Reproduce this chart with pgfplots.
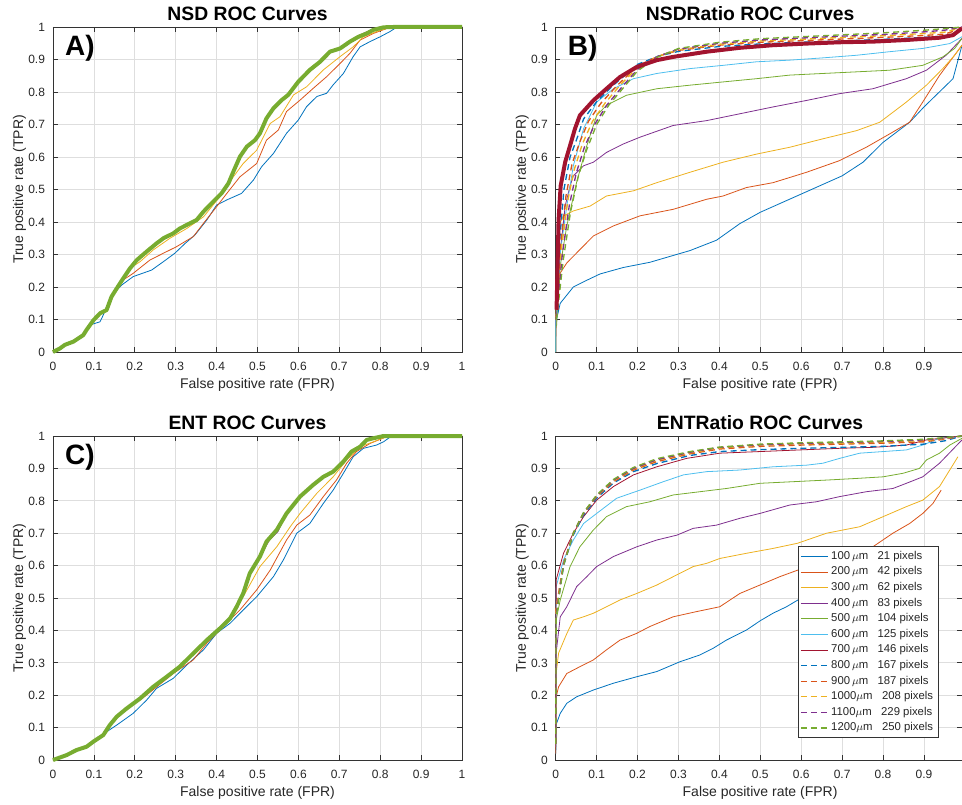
\documentclass[border=0pt]{standalone}
\usepackage{fontspec}
\setmainfont{Liberation Sans}
\usepackage{pgfplots}
\pgfplotsset{compat=1.18}
\definecolor{c1}{rgb}{0,0.447,0.741}
\definecolor{c2}{rgb}{0.850,0.325,0.098}
\definecolor{c3}{rgb}{0.929,0.694,0.125}
\definecolor{c4}{rgb}{0.494,0.184,0.556}
\definecolor{c5}{rgb}{0.466,0.674,0.188}
\definecolor{c6}{rgb}{0.301,0.745,0.933}
\definecolor{c7}{rgb}{0.635,0.078,0.184}
\tikzset{
  dsh/.style={line width=1pt, dash pattern=on 4.5pt off 3pt},
  panellabel/.style={anchor=north west, inner sep=0pt, font=\bfseries\fontsize{21}{21}\selectfont},
}
\pgfplotsset{
  rocbase/.style={
    scale only axis, xmin=0, ymin=0, ymax=1,
    xtick={0,0.1,0.2,0.3,0.4,0.5,0.6,0.7,0.8,0.9,1},
    ytick={0,0.1,0.2,0.3,0.4,0.5,0.6,0.7,0.8,0.9,1},
    grid=major,
    major grid style={line width=0.5pt, draw=black!13},
    axis line style={line width=0.6pt, draw=black!80},
    tick style={line width=0.6pt, draw=black!80},
    major tick length=3.5pt,
    tick align=inside,
    /pgf/number format/assume math mode=true,
    ticklabel style={font=\fontsize{9}{10}\selectfont, text=black!85},
    xticklabel style={anchor=base, yshift=-13.9pt},
    yticklabel style={anchor=base east, xshift=-2.5pt, yshift=-3.2pt},
    xlabel={False positive rate (FPR)},
    ylabel={True positive rate (TPR)},
    label style={font=\fontsize{10.5}{12}\selectfont, text=black!85},
    clip=false,
    every axis title shift=0pt,
    every axis plot/.append style={line width=0.6pt, line join=round},
  },
  ttl/.style n args={3}{title style={at={(axis description cs:#1,1)}, anchor=base, inner sep=0pt,
      xshift=#2, yshift=#3, font=\bfseries\fontsize{14.5}{16}\selectfont}},
}
\begin{document}
\begin{tikzpicture}
\useasboundingbox (0pt,0pt) rectangle (721.5pt,-603.75pt);

% ---------------- A ----------------
\begin{axis}[rocbase, at={(39.75pt,-264pt)}, anchor=south west,
  width=306.75pt, height=243.75pt, xmax=1,
  title={NSD ROC Curves}, ttl={0.5}{-7.5pt}{4.5pt},
  xlabel style={at={(axis description cs:0.5,-0.1124)}, anchor=base},
  ylabel style={at={(axis description cs:-0.0733,0.5)}, anchor=base}]
\addplot[c1] coordinates {(0,0)(0.017,0.011)(0.029,0.022)(0.05,0.032)(0.074,0.052)(0.082,0.068)(0.095,0.085)(0.115,0.093)(0.123,0.114)(0.143,0.175)(0.168,0.206)(0.196,0.232)(0.241,0.252)(0.27,0.278)(0.298,0.304)(0.323,0.334)(0.347,0.36)(0.376,0.406)(0.4,0.452)(0.425,0.468)(0.461,0.488)(0.49,0.529)(0.51,0.57)(0.539,0.611)(0.571,0.673)(0.6,0.714)(0.62,0.755)(0.645,0.786)(0.669,0.796)(0.685,0.822)(0.71,0.857)(0.734,0.909)(0.751,0.939)(0.775,0.955)(0.8,0.97)(0.824,0.986)(0.84,0.999)(0.85,1)(1,1)};
\addplot[c2] coordinates {(0,0)(0.017,0.011)(0.029,0.022)(0.05,0.032)(0.074,0.052)(0.082,0.068)(0.099,0.098)(0.115,0.119)(0.131,0.129)(0.143,0.17)(0.156,0.196)(0.172,0.222)(0.196,0.242)(0.237,0.283)(0.27,0.304)(0.302,0.324)(0.343,0.355)(0.368,0.396)(0.4,0.447)(0.425,0.488)(0.457,0.539)(0.498,0.58)(0.522,0.652)(0.551,0.683)(0.571,0.74)(0.604,0.775)(0.636,0.811)(0.669,0.847)(0.702,0.888)(0.726,0.919)(0.751,0.96)(0.783,0.98)(0.824,0.999)(0.835,1)(1,1)};
\addplot[c3] coordinates {(0,0)(0.017,0.011)(0.029,0.022)(0.05,0.032)(0.074,0.052)(0.082,0.068)(0.099,0.098)(0.115,0.119)(0.131,0.129)(0.143,0.17)(0.156,0.196)(0.172,0.227)(0.188,0.257)(0.213,0.278)(0.245,0.314)(0.286,0.35)(0.327,0.38)(0.368,0.416)(0.408,0.478)(0.441,0.539)(0.465,0.58)(0.498,0.621)(0.531,0.703)(0.555,0.724)(0.588,0.791)(0.62,0.816)(0.661,0.868)(0.702,0.909)(0.734,0.939)(0.759,0.97)(0.791,0.986)(0.824,0.999)(0.835,1)(1,1)};
\addplot[c4] coordinates {(0,0)(0.017,0.011)(0.029,0.022)(0.05,0.032)(0.074,0.052)(0.082,0.068)(0.099,0.098)(0.115,0.119)(0.131,0.129)(0.143,0.17)(0.156,0.196)(0.172,0.227)(0.188,0.257)(0.205,0.283)(0.229,0.309)(0.253,0.334)(0.27,0.35)(0.294,0.365)(0.31,0.38)(0.335,0.396)(0.351,0.406)(0.368,0.432)(0.392,0.463)(0.412,0.488)(0.429,0.519)(0.441,0.555)(0.457,0.601)(0.474,0.632)(0.494,0.652)(0.506,0.673)(0.522,0.719)(0.539,0.75)(0.559,0.775)(0.575,0.791)(0.6,0.832)(0.628,0.868)(0.653,0.893)(0.677,0.924)(0.702,0.936)(0.726,0.958)(0.747,0.974)(0.767,0.985)(0.783,0.995)(0.8,1)(1,1)};
\addplot[c5, line width=3pt] coordinates {(0,0)(0.017,0.011)(0.029,0.022)(0.05,0.032)(0.074,0.052)(0.082,0.068)(0.099,0.098)(0.115,0.119)(0.131,0.129)(0.143,0.17)(0.156,0.196)(0.172,0.227)(0.188,0.257)(0.205,0.283)(0.229,0.309)(0.253,0.334)(0.27,0.35)(0.294,0.365)(0.31,0.38)(0.335,0.396)(0.351,0.406)(0.368,0.432)(0.392,0.463)(0.412,0.488)(0.429,0.519)(0.441,0.555)(0.457,0.601)(0.474,0.632)(0.494,0.652)(0.506,0.673)(0.522,0.719)(0.539,0.75)(0.559,0.775)(0.575,0.791)(0.6,0.832)(0.628,0.868)(0.653,0.893)(0.677,0.924)(0.702,0.934)(0.726,0.955)(0.747,0.97)(0.767,0.98)(0.783,0.991)(0.808,0.999)(0.832,1)(1,1)};
\node[panellabel] at (axis description cs:0.029,0.975) {A)};
\end{axis}

% ---------------- B ----------------
\begin{axis}[rocbase, at={(416.8pt,-264pt)}, anchor=south west,
  width=304.7pt, height=243.75pt, xmax=0.993,
  title={NSDRatio ROC Curves}, ttl={0.503}{-7.5pt}{4.5pt},
  xlabel style={at={(axis description cs:0.503,-0.1124)}, anchor=base},
  ylabel style={at={(axis description cs:-0.0738,0.5)}, anchor=base}]
\addplot[c1] coordinates {(0,0)(0,0.1)(0.002,0.1)(0.011,0.15)(0.043,0.2)(0.068,0.216)(0.108,0.24)(0.165,0.26)(0.23,0.276)(0.287,0.297)(0.328,0.312)(0.393,0.344)(0.45,0.395)(0.5,0.43)(0.6,0.486)(0.7,0.542)(0.751,0.584)(0.8,0.645)(0.865,0.707)(0.9,0.754)(0.971,0.841)(0.993,0.944)};
\addplot[c2] coordinates {(0,0)(0,0.037)(0.002,0.12)(0.011,0.243)(0.027,0.274)(0.059,0.315)(0.092,0.357)(0.141,0.388)(0.206,0.419)(0.287,0.439)(0.369,0.47)(0.409,0.48)(0.466,0.506)(0.531,0.521)(0.613,0.553)(0.694,0.589)(0.759,0.63)(0.816,0.671)(0.865,0.707)(0.897,0.769)(0.938,0.851)(0.993,0.944)};
\addplot[c3] coordinates {(0,0)(0,0.08)(0.002,0.2)(0.007,0.388)(0.019,0.419)(0.043,0.434)(0.084,0.449)(0.124,0.48)(0.19,0.496)(0.247,0.521)(0.328,0.553)(0.409,0.584)(0.491,0.609)(0.572,0.63)(0.653,0.656)(0.735,0.681)(0.792,0.707)(0.857,0.769)(0.906,0.821)(0.946,0.872)(0.975,0.913)(0.993,0.944)};
\addplot[c4] coordinates {(0,0)(0,0.1)(0.002,0.12)(0.011,0.305)(0.023,0.449)(0.035,0.511)(0.043,0.542)(0.068,0.573)(0.092,0.584)(0.124,0.614)(0.165,0.64)(0.206,0.661)(0.287,0.697)(0.369,0.712)(0.45,0.733)(0.531,0.754)(0.613,0.774)(0.694,0.795)(0.775,0.81)(0.857,0.841)(0.906,0.867)(0.954,0.913)(0.993,0.965)};
\addplot[c5] coordinates {(0,0)(0,0.08)(0.002,0.08)(0.011,0.264)(0.027,0.388)(0.051,0.522)(0.076,0.635)(0.1,0.728)(0.124,0.759)(0.173,0.79)(0.247,0.81)(0.328,0.821)(0.409,0.831)(0.491,0.841)(0.572,0.852)(0.653,0.857)(0.735,0.862)(0.816,0.867)(0.897,0.882)(0.946,0.908)(0.975,0.934)(0.993,0.965)};
\addplot[c6] coordinates {(0,0)(0,0.1)(0.002,0.1)(0.011,0.305)(0.027,0.449)(0.043,0.573)(0.068,0.687)(0.1,0.769)(0.141,0.81)(0.19,0.841)(0.247,0.857)(0.328,0.872)(0.409,0.882)(0.491,0.893)(0.572,0.898)(0.653,0.905)(0.735,0.913)(0.816,0.924)(0.897,0.934)(0.963,0.949)(0.993,0.97)};
\addplot[c1, dsh] coordinates {(0,0.1)(0.003,0.15)(0.01,0.35)(0.02,0.5)(0.035,0.6)(0.05,0.65)(0.068,0.717)(0.1,0.77)(0.14,0.82)(0.2,0.885)(0.25,0.91)(0.3,0.925)(0.4,0.94)(0.5,0.948)(0.6,0.953)(0.7,0.957)(0.8,0.962)(0.9,0.968)(0.95,0.972)(0.993,0.99)};
\addplot[c2, dsh] coordinates {(0,0.1)(0.003,0.14)(0.012,0.33)(0.025,0.48)(0.04,0.58)(0.06,0.65)(0.08,0.71)(0.11,0.765)(0.15,0.82)(0.2,0.88)(0.25,0.91)(0.3,0.928)(0.4,0.944)(0.5,0.953)(0.6,0.958)(0.7,0.963)(0.8,0.968)(0.9,0.974)(0.95,0.978)(0.993,0.995)};
\addplot[c3, dsh] coordinates {(0,0.1)(0.003,0.13)(0.014,0.32)(0.03,0.47)(0.045,0.56)(0.065,0.64)(0.09,0.71)(0.12,0.765)(0.16,0.825)(0.2,0.875)(0.25,0.91)(0.3,0.93)(0.4,0.947)(0.5,0.957)(0.6,0.962)(0.7,0.968)(0.8,0.973)(0.9,0.98)(0.95,0.984)(0.993,0.998)};
\addplot[c4, dsh] coordinates {(0,0.1)(0.003,0.12)(0.016,0.3)(0.033,0.45)(0.05,0.55)(0.07,0.63)(0.095,0.7)(0.125,0.76)(0.165,0.82)(0.2,0.87)(0.25,0.91)(0.3,0.932)(0.4,0.95)(0.5,0.96)(0.6,0.966)(0.7,0.972)(0.8,0.977)(0.9,0.985)(0.95,0.99)(0.993,1)};
\addplot[c5, dsh] coordinates {(0,0.1)(0.003,0.11)(0.018,0.28)(0.036,0.43)(0.055,0.54)(0.075,0.62)(0.1,0.7)(0.13,0.76)(0.17,0.82)(0.2,0.865)(0.25,0.908)(0.3,0.934)(0.4,0.953)(0.5,0.964)(0.6,0.97)(0.7,0.976)(0.8,0.982)(0.9,0.99)(0.95,0.995)(0.993,1)};
\addplot[c7, line width=3pt] coordinates {(0.002,0.13)(0.007,0.408)(0.012,0.511)(0.023,0.584)(0.035,0.635)(0.047,0.687)(0.059,0.728)(0.092,0.774)(0.124,0.81)(0.157,0.846)(0.198,0.877)(0.247,0.898)(0.287,0.908)(0.369,0.924)(0.45,0.936)(0.531,0.944)(0.613,0.949)(0.694,0.953)(0.775,0.955)(0.857,0.96)(0.938,0.967)(0.971,0.975)(0.993,0.996)};
\node[panellabel] at (axis description cs:0.029,0.975) {B)};
\end{axis}

% ---------------- C ----------------
\begin{axis}[rocbase, at={(39.75pt,-570pt)}, anchor=south west,
  width=306.75pt, height=243pt, xmax=1,
  title={ENT ROC Curves}, ttl={0.5}{-7.5pt}{5.25pt},
  xlabel style={at={(axis description cs:0.5,-0.1128)}, anchor=base},
  ylabel style={at={(axis description cs:-0.0733,0.5)}, anchor=base}]
\addplot[c1] coordinates {(0,0)(0.033,0.015)(0.058,0.031)(0.082,0.041)(0.099,0.057)(0.131,0.087)(0.156,0.108)(0.196,0.144)(0.229,0.185)(0.253,0.221)(0.294,0.252)(0.327,0.293)(0.368,0.34)(0.4,0.391)(0.433,0.422)(0.465,0.463)(0.498,0.504)(0.539,0.566)(0.563,0.617)(0.596,0.7)(0.628,0.73)(0.661,0.792)(0.685,0.833)(0.71,0.885)(0.734,0.936)(0.759,0.962)(0.791,0.972)(0.808,0.982)(0.828,1)(1,1)};
\addplot[c2] coordinates {(0,0)(0.033,0.015)(0.058,0.031)(0.082,0.041)(0.099,0.057)(0.123,0.077)(0.139,0.108)(0.156,0.134)(0.18,0.159)(0.213,0.185)(0.25,0.222)(0.294,0.267)(0.343,0.309)(0.376,0.36)(0.408,0.401)(0.457,0.463)(0.498,0.525)(0.531,0.586)(0.571,0.679)(0.596,0.725)(0.628,0.756)(0.661,0.813)(0.693,0.864)(0.718,0.916)(0.742,0.952)(0.775,0.977)(0.816,0.998)(0.825,1)(1,1)};
\addplot[c3] coordinates {(0,0)(0.033,0.015)(0.058,0.031)(0.082,0.041)(0.099,0.057)(0.123,0.077)(0.139,0.108)(0.156,0.134)(0.18,0.159)(0.213,0.19)(0.245,0.226)(0.278,0.257)(0.31,0.288)(0.343,0.329)(0.376,0.365)(0.424,0.427)(0.465,0.504)(0.506,0.597)(0.547,0.658)(0.58,0.72)(0.604,0.761)(0.645,0.823)(0.685,0.874)(0.718,0.926)(0.751,0.967)(0.783,0.982)(0.816,0.998)(0.825,1)(1,1)};
\addplot[c4] coordinates {(0,0)(0.033,0.015)(0.058,0.031)(0.082,0.041)(0.099,0.057)(0.123,0.077)(0.139,0.108)(0.156,0.134)(0.18,0.159)(0.213,0.19)(0.245,0.226)(0.278,0.257)(0.31,0.288)(0.343,0.329)(0.376,0.37)(0.408,0.406)(0.433,0.437)(0.449,0.473)(0.465,0.514)(0.481,0.576)(0.506,0.628)(0.53,0.68)(0.55,0.705)(0.571,0.761)(0.604,0.813)(0.636,0.849)(0.661,0.874)(0.685,0.89)(0.71,0.921)(0.73,0.952)(0.751,0.967)(0.767,0.985)(0.783,0.993)(0.808,1)(1,1)};
\addplot[c5, line width=3pt] coordinates {(0,0)(0.033,0.015)(0.058,0.031)(0.082,0.041)(0.099,0.057)(0.123,0.077)(0.139,0.108)(0.156,0.134)(0.18,0.159)(0.213,0.19)(0.245,0.226)(0.278,0.257)(0.31,0.288)(0.343,0.329)(0.376,0.37)(0.408,0.406)(0.433,0.437)(0.449,0.473)(0.465,0.514)(0.481,0.576)(0.506,0.628)(0.522,0.674)(0.547,0.71)(0.571,0.761)(0.604,0.813)(0.636,0.849)(0.661,0.874)(0.685,0.89)(0.71,0.921)(0.73,0.952)(0.751,0.967)(0.767,0.988)(0.783,0.993)(0.808,1)(1,1)};
\node[panellabel] at (axis description cs:0.029,0.975) {C)};
\end{axis}

% ---------------- D ----------------
\begin{axis}[rocbase, at={(416.8pt,-570pt)}, anchor=south west,
  width=304.7pt, height=243pt, xmax=0.993,
  title={ENTRatio ROC Curves}, ttl={0.503}{0pt}{5.25pt},
  xlabel style={at={(axis description cs:0.503,-0.1128)}, anchor=base},
  ylabel style={at={(axis description cs:-0.0738,0.5)}, anchor=base},
  legend cell align=left,
  legend image code/.code={\draw[#1] (0pt,0pt) -- (20pt,0pt);},
  legend style={at={(0.596,0.66)}, anchor=north west, draw=black!80, line width=0.6pt, fill=white,
    font=\fontsize{8.5}{10}\selectfont, inner sep=1.5pt, row sep=0pt,
    nodes={inner xsep=2.2pt, inner ysep=1.1pt, text height=7pt, text depth=2.5pt, text=black!85}}]
\addplot[c1] coordinates {(0,0.02)(0.001,0.06)(0.002,0.113)(0.011,0.144)(0.027,0.175)(0.051,0.195)(0.092,0.216)(0.141,0.237)(0.198,0.257)(0.247,0.273)(0.303,0.303)(0.352,0.324)(0.385,0.345)(0.417,0.37)(0.466,0.401)(0.5,0.43)(0.531,0.453)(0.564,0.473)(0.6,0.5)(0.7,0.56)(0.8,0.62)(0.85,0.65)};
\addplot[c2] coordinates {(0,0.02)(0.001,0.195)(0.007,0.226)(0.027,0.267)(0.059,0.288)(0.092,0.309)(0.124,0.34)(0.157,0.37)(0.198,0.391)(0.23,0.412)(0.287,0.442)(0.344,0.458)(0.401,0.473)(0.45,0.514)(0.499,0.54)(0.548,0.566)(0.6,0.59)(0.7,0.63)(0.775,0.658)(0.824,0.7)(0.865,0.73)(0.897,0.761)(0.922,0.792)(0.942,0.833)};
\addplot[c3] coordinates {(0,0.04)(0.001,0.267)(0.007,0.33)(0.027,0.39)(0.043,0.432)(0.068,0.442)(0.092,0.453)(0.124,0.473)(0.157,0.494)(0.198,0.514)(0.247,0.54)(0.303,0.576)(0.336,0.597)(0.369,0.607)(0.401,0.622)(0.466,0.638)(0.531,0.653)(0.591,0.669)(0.662,0.7)(0.743,0.72)(0.8,0.751)(0.857,0.782)(0.897,0.802)(0.938,0.844)(0.963,0.895)(0.983,0.936)};
\addplot[c4] coordinates {(0,0.04)(0.001,0.33)(0.011,0.442)(0.027,0.473)(0.051,0.535)(0.076,0.566)(0.1,0.597)(0.141,0.628)(0.198,0.658)(0.247,0.679)(0.296,0.694)(0.336,0.715)(0.393,0.725)(0.45,0.746)(0.499,0.761)(0.572,0.787)(0.637,0.797)(0.694,0.813)(0.759,0.828)(0.824,0.838)(0.857,0.854)(0.897,0.874)(0.938,0.916)(0.993,0.988)};
\addplot[c5] coordinates {(0,0.06)(0.001,0.432)(0.011,0.494)(0.035,0.597)(0.059,0.658)(0.092,0.71)(0.124,0.751)(0.173,0.782)(0.23,0.797)(0.287,0.818)(0.352,0.828)(0.417,0.838)(0.499,0.854)(0.58,0.859)(0.662,0.864)(0.735,0.869)(0.8,0.874)(0.849,0.885)(0.889,0.9)(0.906,0.926)(0.938,0.947)(0.963,0.972)(0.993,0.993)};
\addplot[c6] coordinates {(0,0.06)(0.001,0.535)(0.019,0.617)(0.043,0.679)(0.068,0.73)(0.1,0.761)(0.149,0.808)(0.206,0.833)(0.263,0.859)(0.312,0.88)(0.369,0.89)(0.45,0.895)(0.531,0.905)(0.613,0.91)(0.653,0.916)(0.694,0.931)(0.743,0.947)(0.8,0.952)(0.857,0.957)(0.897,0.972)(0.938,0.993)(0.993,1)};
\addplot[c7] coordinates {(0,0.06)(0.001,0.556)(0.019,0.638)(0.043,0.7)(0.068,0.751)(0.1,0.802)(0.141,0.844)(0.19,0.88)(0.247,0.905)(0.32,0.931)(0.401,0.947)(0.499,0.952)(0.596,0.957)(0.694,0.962)(0.775,0.965)(0.857,0.972)(0.906,0.988)(0.993,1)};
\addplot[c1, dsh] coordinates {(0,0.05)(0.001,0.45)(0.019,0.6)(0.043,0.695)(0.068,0.756)(0.1,0.808)(0.141,0.855)(0.19,0.89)(0.247,0.915)(0.328,0.94)(0.401,0.952)(0.5,0.958)(0.6,0.962)(0.7,0.965)(0.8,0.968)(0.9,0.975)(0.95,0.985)(0.993,1)};
\addplot[c2, dsh] coordinates {(0,0.05)(0.001,0.47)(0.019,0.607)(0.043,0.7)(0.068,0.761)(0.1,0.813)(0.141,0.859)(0.19,0.895)(0.247,0.921)(0.328,0.945)(0.401,0.96)(0.5,0.968)(0.6,0.972)(0.7,0.975)(0.8,0.978)(0.9,0.982)(0.95,0.99)(0.993,1)};
\addplot[c3, dsh] coordinates {(0,0.05)(0.001,0.46)(0.019,0.605)(0.043,0.7)(0.068,0.762)(0.1,0.815)(0.141,0.862)(0.19,0.898)(0.247,0.925)(0.328,0.948)(0.401,0.963)(0.5,0.972)(0.6,0.976)(0.7,0.978)(0.8,0.981)(0.9,0.986)(0.95,0.992)(0.993,1)};
\addplot[c4, dsh] coordinates {(0,0.05)(0.001,0.45)(0.019,0.603)(0.043,0.7)(0.068,0.763)(0.1,0.816)(0.141,0.864)(0.19,0.9)(0.247,0.927)(0.328,0.95)(0.401,0.965)(0.5,0.973)(0.6,0.977)(0.7,0.98)(0.8,0.983)(0.9,0.988)(0.95,0.993)(0.993,1)};
\addplot[c5, dsh] coordinates {(0,0.05)(0.001,0.44)(0.019,0.6)(0.043,0.7)(0.068,0.764)(0.1,0.818)(0.141,0.866)(0.19,0.903)(0.247,0.93)(0.328,0.952)(0.401,0.966)(0.5,0.975)(0.6,0.979)(0.7,0.982)(0.8,0.985)(0.9,0.99)(0.95,0.995)(0.993,1)};
\legend{100\,$\mu$m\hspace{7pt}21 pixels, 200\,$\mu$m\hspace{7pt}42 pixels, 300\,$\mu$m\hspace{7pt}62 pixels, 400\,$\mu$m\hspace{7pt}83 pixels, 500\,$\mu$m\hspace{7pt}104 pixels, 600\,$\mu$m\hspace{7pt}125 pixels, 700\,$\mu$m\hspace{7pt}146 pixels, 800\,$\mu$m\hspace{7pt}167 pixels, 900\,$\mu$m\hspace{7pt}187 pixels, 1000$\mu$m\hspace{7pt}208 pixels, 1100$\mu$m\hspace{7pt}229 pixels, 1200$\mu$m\hspace{7pt}250 pixels}
\end{axis}
\end{tikzpicture}
\end{document}
